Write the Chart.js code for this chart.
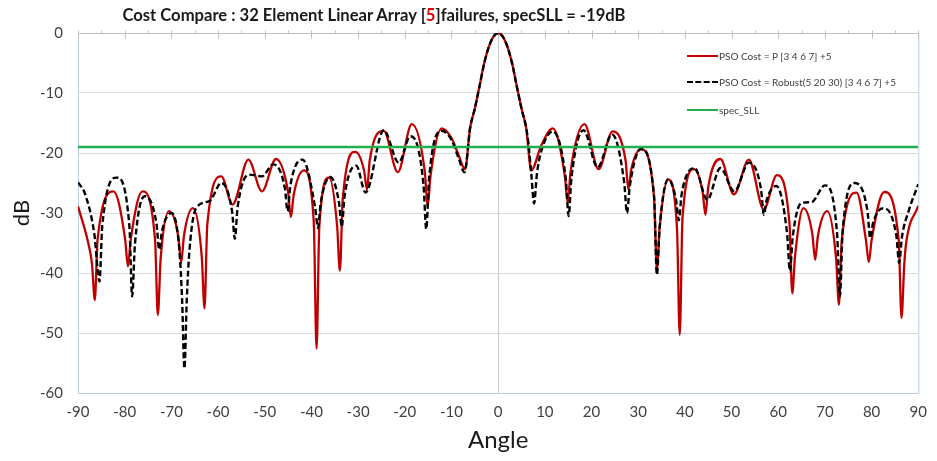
<!DOCTYPE html>
<html>
<head>
<meta charset="utf-8">
<script src="https://cdn.jsdelivr.net/npm/chart.js@4.4.1/dist/chart.umd.min.js"></script>
<style>
  html, body { margin: 0; padding: 0; background: #fff; }
  #wrap { position: relative; width: 937px; height: 461px; font-family: Lato, "Open Sans", sans-serif; }
  #title { position: absolute; top: 5px; left: 0; width: 748px; text-align: center; font-weight: bold; font-size: 16.6px; color: #1a1a1a; white-space: nowrap; }
  #title .hl { color: #e00000; }
  .leg { position: absolute; left: 687px; height: 12px; display: flex; align-items: center; font-size: 10px; color: #404040; white-space: nowrap; }
  .leg .sw { width: 31px; height: 0; margin-right: 1px; }
</style>
</head>
<body>
<div id="wrap">
  <canvas id="chartPattern" width="937" height="461"></canvas>
  <div id="title">Cost Compare : 32 Element Linear Array [<span class="hl">5</span>]failures, specSLL = -19dB</div>
  <div class="leg" style="top:50px"><span class="sw" style="border-top:2px solid #c00000"></span>PSO Cost = P [3 4 6 7] +5</div>
  <div class="leg" style="top:76px"><span class="sw" style="border-top:2.5px dashed #000"></span>PSO Cost = Robust(5 20 30) [3 4 6 7] +5</div>
  <div class="leg" style="top:104px"><span class="sw" style="border-top:2.5px solid #22b04f"></span>spec_SLL</div>
</div>
<script>
// red: PSO Cost = P [3 4 6 7] +5
const redAngle = [-90, -87.8, -87.0, -86.4, -85.8, -82.4, -79.9, -79.3, -78.7, -76.2, -73.5, -72.9, -72.3, -70.5, -68.5, -67.9, -67.3, -65.4,
  -63.5, -62.9, -62.3, -59.3, -56.9, -53.5, -50.6, -47.6, -45.0, -44.4, -43.8, -41.6, -39.5, -38.9, -38.3, -36.2, -34.5, -33.9, -33.3,
  -30.6, -28.7, -28.1, -27.5, -24.5, -21.5, -18.5, -15.7, -15.1, -14.5, -12.1, -10.0, -8.5, -7.1,
  -6, -5, -4, -3, -2, -1, 0, 1, 2, 3, 4, 5, 6,
  7.1, 9.2, 11.7, 14.3, 14.9, 15.5, 18.5, 21.5, 24.5, 27.3, 27.9, 28.5, 30.6, 33.4, 34.0, 34.6, 36.4, 38.3, 38.9, 39.5, 41.9,
  43.8, 44.4, 45.0, 47.6, 50.5, 53.7, 56.9, 59.7, 62.4, 63.0, 63.6, 65.4, 67.3, 67.9, 68.5, 70.5, 72.4, 73.0, 73.6, 76.8,
  78.8, 79.4, 80.0, 82.7, 85.8, 86.4, 87.0, 87.4, 90];
const redDb = [-28.9, -35, -38.5, -44.5, -34.4, -26.4, -34.4, -38.9, -34.4, -26.4, -34.4, -47.0, -37.7, -29.7, -34.0, -38.3, -33.8, -29.2,
  -37.2, -45.9, -31.9, -23.9, -28.6, -21.1, -26.4, -21.0, -26.5, -30.7, -27.0, -22.9, -31.5, -52.6, -32.1, -24.1, -32.1, -39.6, -27.8,
  -19.8, -23.0, -26.1, -21.2, -16.3, -23.2, -15.2, -23.2, -28.9, -23.9, -15.9, -17.5, -20.3, -22.7,
  -15.8, -12.6, -8.9, -5.1, -2.3, -0.6, 0, -0.6, -2.3, -5.1, -8.9, -12.6, -15.8,
  -22.9, -18.8, -15.9, -23.9, -28.3, -23.2, -15.2, -22.7, -16.4, -21.3, -26.1, -22.8, -19.4, -27.4, -39.5, -32.4, -24.4, -32.4, -50.3, -30.7, -22.7,
  -26.5, -30.3, -25.7, -21.0, -26.9, -21.1, -29.4, -23.7, -31.7, -43.4, -37.2, -29.2, -33.5, -37.8, -33.8, -29.7, -37.7, -45.3, -34.6, -26.6,
  -34.6, -38.2, -34.5, -26.5, -34.5, -47.5, -38.5, -35, -28.8];

// black dashed: PSO Cost = Robust(5 20 30) [3 4 6 7] +5
const blackAngle = [-90, -88.5, -86.5, -85.4, -84.8, -81.7, -79.0, -78.4, -77.8, -75.7, -73.2, -72.6, -72.0, -70.0, -68.3, -67.7, -67.2, -66.7, -66.1,
  -64.7, -61.8, -59.3, -57.0, -56.4, -55.8, -53.3, -50.6, -48.2, -45.7, -45.1, -44.5, -41.9, -39.2, -38.6, -38.0, -36.0, -34.1, -33.5, -32.9,
  -30.4, -28.4, -24.5, -21.3, -18.8, -16.0, -15.4, -14.8, -12.1, -10.0, -8.5, -7.2,
  -6, -5, -4, -3, -2, -1, 0, 1, 2, 3, 4, 5, 6,
  6.5, 7.1, 7.7, 8.3, 9.2, 11.7, 14.5, 15.1, 15.7, 18.3, 21.3, 24.4, 27.0, 27.6, 28.2, 30.6, 33.4, 34.0, 34.6, 36.4, 38.1, 38.7, 39.3,
  42.1, 44.8, 47.6, 50.6, 53.7, 56.3, 56.9, 57.5, 59.6, 61.9, 62.5, 63.1, 65.0, 67.1, 70.0, 72.6, 73.2, 73.8, 76.4,
  79.1, 79.7, 80.3, 82.5, 85.3, 85.9, 86.5, 88.0, 90];
const blackDb = [-24.9, -26.8, -33.5, -41.4, -32.1, -24.1, -32.1, -43.9, -35.2, -27.2, -31.7, -36.1, -33.0, -30.0, -36.0, -44.5, -55.9, -44.5, -36.0,
  -29.2, -28.0, -25.0, -29.7, -34.3, -29.0, -23.6, -23.9, -21.9, -25.8, -29.7, -25.4, -21.1, -29.1, -32.5, -28.3, -24.0, -28.2, -32.3, -27.2,
  -22.1, -26.6, -16.2, -21.6, -17.2, -25.2, -32.7, -24.3, -16.3, -17.8, -20.8, -23.2,
  -15.8, -12.6, -8.9, -5.1, -2.3, -0.6, 0, -0.6, -2.3, -5.1, -8.9, -12.6, -15.8,
  -18.5, -23.5, -28.4, -23.5, -19.8, -16.4, -24.4, -30.5, -24.2, -16.2, -22.4, -16.9, -24.9, -30.0, -25.5, -19.3, -27.3, -40.3, -32.4, -24.4, -27.8, -31.2, -26.9,
  -22.5, -27.8, -22.5, -26.4, -21.6, -26.0, -30.3, -27.9, -25.5, -33.5, -39.7, -34.0, -28.3, -28.2, -25.4, -33.4, -43.9, -33.0, -25.0,
  -29.6, -34.2, -31.7, -29.2, -33.8, -38.3, -34.0, -29.5, -25.2];

const specAngle = [-90, 90];
const specDb = [-19, -19];

const FONT = "Lato, 'Open Sans', sans-serif";
const toPts = (xs, ys) => xs.map((x, i) => ({ x: x, y: ys[i] }));

// right border of the plot + tick marks on the 0 dB axis line
const framePlugin = {
  id: "frame",
  beforeDatasetsDraw(chart) {
    const { ctx, chartArea: a, scales } = chart;
    ctx.save();
    ctx.strokeStyle = "#b9cde5";
    ctx.lineWidth = 1;
    ctx.beginPath();
    ctx.moveTo(a.right + 0.5, a.top);
    ctx.lineTo(a.right + 0.5, a.bottom);
    ctx.stroke();
    const y0 = Math.round(scales.y.getPixelForValue(0)) + 0.5;
    ctx.strokeStyle = "#bfbfbf";
    ctx.beginPath();
    for (let v = -90; v <= 90; v += 5) {
      const px = Math.round(scales.x.getPixelForValue(v)) + 0.5;
      const major = v % 10 === 0;
      ctx.moveTo(px, y0 - 3);
      ctx.lineTo(px, major ? y0 + 5 : y0);
    }
    ctx.stroke();
    ctx.restore();
  },
};

new Chart(document.getElementById("chartPattern"), {
  type: "line",
  data: {
    datasets: [
      { label: "spec_SLL", data: toPts(specAngle, specDb), borderColor: "#22b04f", borderWidth: 2.5, pointRadius: 0, order: 0 },
      { label: "PSO Cost = Robust(5 20 30) [3 4 6 7] +5", data: toPts(blackAngle, blackDb), borderColor: "#000", borderWidth: 2.4, borderDash: [6, 3], pointRadius: 0, cubicInterpolationMode: "monotone", order: 1 },
      { label: "PSO Cost = P [3 4 6 7] +5", data: toPts(redAngle, redDb), borderColor: "#c00000", borderWidth: 2.3, pointRadius: 0, cubicInterpolationMode: "monotone", order: 2 },
    ],
  },
  options: {
    responsive: false,
    animation: false,
    layout: { padding: { top: 33, right: 15, left: 0, bottom: 0 } },
    plugins: { legend: { display: false }, tooltip: { enabled: false } },
    scales: {
      x: {
        type: "linear", min: -90, max: 90,
        afterFit: (s) => { s.height = 68; },
        ticks: { stepSize: 10, color: "#404040", font: { family: FONT, size: 15 }, padding: 10, maxRotation: 0, autoSkip: false },
        grid: { drawTicks: false, color: (c) => (c.tick && c.tick.value === 0 ? "#c8c8c8" : "rgba(0,0,0,0)") },
        border: { display: true, color: "#b9cde5" },
        title: { display: true, text: "Angle", color: "#1a1a1a", font: { family: FONT, size: 24 }, padding: { top: 0, bottom: 6 } },
      },
      y: {
        min: -60, max: 0,
        afterFit: (s) => { s.width = 78; },
        ticks: { stepSize: 10, color: "#404040", font: { family: FONT, size: 15 }, padding: 15 },
        grid: { drawTicks: false, color: (c) => (c.tick.value === 0 ? "#bfbfbf" : c.tick.value === -60 ? "rgba(0,0,0,0)" : "#d9d9d9") },
        border: { display: true, color: "#b9cde5" },
        title: { display: true, text: "dB", color: "#1a1a1a", font: { family: FONT, size: 22 }, padding: { top: 9, bottom: 0 } },
      },
    },
  },
  plugins: [framePlugin],
});
</script>
</body>
</html>
